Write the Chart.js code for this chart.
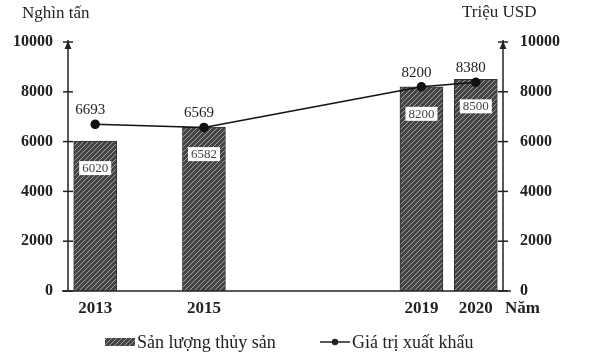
<!DOCTYPE html>
<html>
<head>
<meta charset="utf-8">
<script src="https://cdn.jsdelivr.net/npm/chart.js@4.4.1/dist/chart.umd.min.js"></script>
<style>
  html, body { margin: 0; padding: 0; background: #fff; }
  #wrap { width: 590px; height: 362px; position: relative; }
</style>
</head>
<body>
<div id="wrap"><canvas id="fishChart" width="590" height="362"></canvas></div>
<script>
// --- Dữ liệu ---
const years = [2013, 2015, 2019, 2020];
const sanLuong = [6020, 6582, 8200, 8500];   // nghìn tấn
const giaTri = [6693, 6569, 8200, 8380];     // triệu USD
const yTicks = [0, 2000, 4000, 6000, 8000, 10000];

const SERIF = '"Liberation Serif", "DejaVu Serif", serif';
const INK = '#222';

// Tạo mẫu gạch chéo cho cột
function makeHatch() {
    const c = document.createElement('canvas');
    c.width = 5; c.height = 5;
    const g = c.getContext('2d');
    g.fillStyle = '#444';
    g.fillRect(0, 0, 5, 5);
    g.strokeStyle = '#a0a0a0';
    g.lineWidth = 1;
    g.beginPath();
    g.moveTo(0, 5); g.lineTo(5, 0);
    g.moveTo(-1, 1); g.lineTo(1, -1);
    g.moveTo(4, 6); g.lineTo(6, 4);
    g.stroke();
    return g.createPattern(c, 'repeat');
}
const hatch = makeHatch();

// Vẽ trục, mũi tên, nhãn số liệu, chú thích
const decorPlugin = {
    id: 'decor',
    afterDraw(chart) {
        const ctx = chart.ctx;
        const x = chart.scales.x, yL = chart.scales.y, yR = chart.scales.y2;
        const base = yL.getPixelForValue(0);
        const top = yL.getPixelForValue(10000);
        ctx.save();
        ctx.strokeStyle = INK;
        ctx.fillStyle = INK;
        ctx.lineWidth = 1.5;

        // trục hoành
        ctx.beginPath();
        ctx.moveTo(62, base); ctx.lineTo(x.right + 8, base);
        ctx.stroke();

        // hai trục đứng + vạch chia + mũi tên
        [[x.left, yL], [x.right, yR]].forEach(([ax, sc]) => {
            ctx.beginPath();
            ctx.moveTo(ax, base); ctx.lineTo(ax, top - 2);
            ctx.stroke();
            yTicks.forEach(v => {
                const py = sc.getPixelForValue(v);
                ctx.beginPath();
                ctx.moveTo(ax - 5, py); ctx.lineTo(ax + 5, py);
                ctx.stroke();
            });
            ctx.beginPath();
            ctx.moveTo(ax, top - 1);
            ctx.lineTo(ax - 3.5, top + 7);
            ctx.lineTo(ax + 3.5, top + 7);
            ctx.closePath();
            ctx.fill();
        });

        // nhãn cột (ô trắng)
        const barMeta = chart.getDatasetMeta(0);
        ctx.font = '13px ' + SERIF;
        ctx.textAlign = 'center';
        ctx.textBaseline = 'middle';
        barMeta.data.forEach((bar, i) => {
            const cy = bar.y + 27;
            ctx.fillStyle = '#fff';
            ctx.fillRect(bar.x - 16, cy - 7, 32, 14);
            ctx.fillStyle = '#444';
            ctx.fillText(String(sanLuong[i]), bar.x, cy + 0.5);
        });

        // nhãn đường
        const lineMeta = chart.getDatasetMeta(1);
        ctx.font = '15px ' + SERIF;
        ctx.fillStyle = INK;
        lineMeta.data.forEach((pt, i) => {
            ctx.fillText(String(giaTri[i]), pt.x - 5, pt.y - 14);
        });

        // tiêu đề trục
        ctx.textAlign = 'left';
        ctx.font = '17px ' + SERIF;
        ctx.fillText('Nghìn tấn', 22, 14);
        ctx.fillText('Triệu USD', 462, 13);
        ctx.font = 'bold 17px ' + SERIF;
        ctx.fillText('Năm', 505, 309);

        // chú thích
        const ly = 342;
        ctx.fillStyle = hatch;
        ctx.fillRect(105, ly - 4, 30, 8);
        ctx.font = '18px ' + SERIF;
        ctx.fillStyle = INK;
        ctx.fillText('Sản lượng thủy sản', 137, ly + 1);
        ctx.lineWidth = 1.5;
        ctx.beginPath();
        ctx.moveTo(320, ly); ctx.lineTo(350, ly);
        ctx.stroke();
        ctx.beginPath();
        ctx.arc(335, ly, 3.2, 0, Math.PI * 2);
        ctx.fill();
        ctx.fillText('Giá trị xuất khẩu', 352, ly + 1);
        ctx.restore();
    }
};

const ctx = document.getElementById('fishChart').getContext('2d');
new Chart(ctx, {
    data: {
        datasets: [{
            type: 'bar',
            label: 'Sản lượng thủy sản',
            data: years.map((yr, i) => ({ x: yr, y: sanLuong[i] })),
            backgroundColor: hatch,
            borderColor: '#333',
            borderWidth: 1,
            barThickness: 43,
            yAxisID: 'y',
            order: 2
        }, {
            type: 'line',
            label: 'Giá trị xuất khẩu',
            data: years.map((yr, i) => ({ x: yr, y: giaTri[i] })),
            borderColor: '#111',
            backgroundColor: '#111',
            borderWidth: 1.5,
            pointRadius: 4,
            pointBackgroundColor: '#111',
            tension: 0,
            yAxisID: 'y2',
            order: 1
        }]
    },
    options: {
        responsive: false,
        animation: false,
        layout: { padding: { top: 42, left: 0, right: 0, bottom: 0 } },
        plugins: {
            legend: { display: false },
            tooltip: { enabled: false }
        },
        scales: {
            x: {
                type: 'linear',
                offset: false,
                min: 2012.5,
                max: 2020.5,
                afterBuildTicks: s => { s.ticks = years.map(v => ({ value: v })); },
                afterFit: s => { s.height = 71; },
                grid: { display: false, drawTicks: false, offset: false },
                border: { display: false },
                ticks: {
                    callback: v => String(v),
                    padding: 7,
                    color: INK,
                    font: { family: SERIF, size: 17, weight: 'bold' },
                    maxRotation: 0,
                    autoSkip: false
                }
            },
            y: {
                position: 'left',
                min: 0,
                max: 10000,
                afterBuildTicks: s => { s.ticks = yTicks.map(v => ({ value: v })); },
                afterFit: s => { s.width = 68; },
                grid: { display: false, drawTicks: false },
                border: { display: false },
                ticks: {
                    callback: v => String(v),
                    padding: 15,
                    color: INK,
                    font: { family: SERIF, size: 16, weight: 'bold' }
                }
            },
            y2: {
                position: 'right',
                min: 0,
                max: 10000,
                afterBuildTicks: s => { s.ticks = yTicks.map(v => ({ value: v })); },
                afterFit: s => { s.width = 87; },
                grid: { display: false, drawTicks: false },
                border: { display: false },
                ticks: {
                    callback: v => String(v),
                    padding: 17,
                    color: INK,
                    font: { family: SERIF, size: 16, weight: 'bold' }
                }
            }
        }
    },
    plugins: [decorPlugin]
});
</script>
</body>
</html>
